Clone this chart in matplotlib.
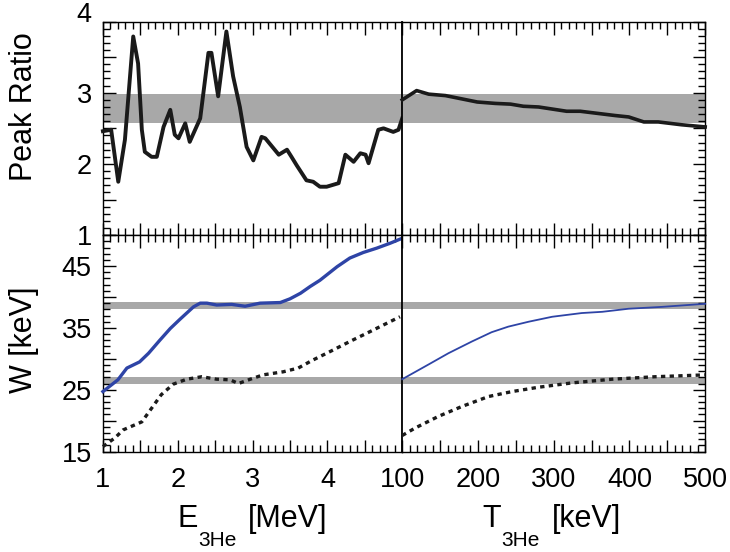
import matplotlib
matplotlib.use("Agg")
import matplotlib.pyplot as plt
from matplotlib.ticker import MultipleLocator, FuncFormatter

plt.rcParams["font.family"] = ["Liberation Sans", "DejaVu Sans"]

# peak ratio vs beam energy (MeV)
e_ratio = [1.0, 1.11, 1.205, 1.294, 1.405, 1.47, 1.52, 1.56, 1.65, 1.72, 1.81, 1.90,
           1.96, 2.01, 2.10, 2.16, 2.30, 2.41, 2.45, 2.54, 2.65, 2.74, 2.83, 2.92,
           3.01, 3.12, 3.17, 3.35, 3.46, 3.52, 3.59, 3.72, 3.81, 3.90, 3.99, 4.15,
           4.24, 4.35, 4.44, 4.51, 4.55, 4.68, 4.75, 4.88, 4.95, 5.0]
ratio_e = [2.46, 2.48, 1.75, 2.34, 3.79, 3.41, 2.48, 2.17, 2.10, 2.10, 2.52, 2.76,
           2.41, 2.36, 2.57, 2.31, 2.64, 3.56, 3.56, 2.95, 3.86, 3.23, 2.80, 2.24,
           2.05, 2.38, 2.36, 2.13, 2.20, 2.10, 1.98, 1.77, 1.75, 1.68, 1.68, 1.73,
           2.13, 2.03, 2.15, 2.13, 2.01, 2.48, 2.50, 2.45, 2.48, 2.64]

# peak ratio vs temperature (keV)
t_ratio = [100, 119, 135, 157, 199, 223, 243, 260, 280, 317, 335, 381, 399, 419,
           438, 469, 500]
ratio_t = [2.90, 3.03, 2.98, 2.96, 2.87, 2.85, 2.84, 2.81, 2.80, 2.74, 2.74, 2.68,
           2.66, 2.59, 2.59, 2.55, 2.52]

# widths vs beam energy
e_w_solid = [1.0, 1.2, 1.32, 1.49, 1.61, 1.76, 1.90, 2.03, 2.21, 2.30, 2.39, 2.52,
             2.72, 2.90, 3.10, 3.37, 3.50, 3.64, 3.77, 3.90, 4.13, 4.30, 4.48,
             4.66, 4.84, 5.0]
w_solid_e = [24.7, 26.6, 28.5, 29.5, 30.9, 33.0, 34.9, 36.4, 38.4, 39.0, 39.0, 38.7,
             38.8, 38.5, 39.0, 39.1, 39.7, 40.6, 41.7, 42.7, 44.9, 46.3, 47.2,
             47.9, 48.7, 49.5]
e_w_dot = [1.0, 1.16, 1.27, 1.52, 1.65, 1.78, 1.94, 2.12, 2.32, 2.52, 2.70, 2.81,
           2.97, 3.14, 3.41, 3.61, 3.79, 4.04, 4.30, 4.57, 4.82, 4.97]
w_dot_e = [15.8, 17.2, 18.5, 19.8, 22.0, 24.2, 25.9, 26.7, 27.1, 26.7, 26.6, 26.0,
           26.7, 27.4, 27.9, 28.5, 29.7, 31.2, 32.8, 34.4, 35.9, 36.8]

# widths vs temperature
t_w_solid = [100, 135, 161, 192, 218, 240, 267, 298, 337, 364, 399, 443, 500]
w_solid_t = [26.7, 29.1, 30.9, 32.8, 34.3, 35.2, 36.0, 36.8, 37.4, 37.6, 38.1,
             38.4, 38.9]
t_w_dot = [100, 117, 148, 179, 214, 245, 280, 324, 377, 434, 500]
w_dot_t = [17.6, 18.8, 20.7, 22.3, 23.9, 24.7, 25.4, 26.1, 26.7, 27.1, 27.4]

ratio_band = (2.58, 2.98)
w_bands = [(26.0, 27.1), (38.1, 39.2)]

band_color = "#a8a8a8"
blue = "#2e44a6"
ink = "#1a1a1a"

fig = plt.figure(figsize=(7.3, 5.52), dpi=100)
x0, xm, x1 = 0.141, 0.551, 0.966
y0, ym, y1 = 0.182, 0.574, 0.961
ax_tl = fig.add_axes([x0, ym, xm - x0, y1 - ym])
ax_tr = fig.add_axes([xm, ym, x1 - xm, y1 - ym])
ax_bl = fig.add_axes([x0, y0, xm - x0, ym - y0])
ax_br = fig.add_axes([xm, y0, x1 - xm, ym - y0])


def int_only(v, pos, skip=()):
    if abs(v - round(v)) < 1e-6 and round(v) not in skip:
        return "%d" % round(v)
    return ""


for ax in (ax_tl, ax_tr, ax_bl, ax_br):
    for s in ax.spines.values():
        s.set_linewidth(1.0)
    ax.tick_params(which="both", direction="in", top=True, bottom=True,
                   width=1.0, labelsize=19.5)
    ax.tick_params(axis="x", pad=11)
    ax.tick_params(axis="y", pad=8)
    ax.tick_params(which="major", length=9)
    ax.tick_params(which="minor", length=5)

for ax in (ax_tl, ax_bl):
    ax.set_xlim(1, 5)
    ax.xaxis.set_major_locator(MultipleLocator(0.5))
    ax.xaxis.set_minor_locator(MultipleLocator(0.1))
    ax.xaxis.set_major_formatter(FuncFormatter(lambda v, p: int_only(v, p, skip=(5,))))
    ax.tick_params(which="both", left=True, right=False)
for ax in (ax_tr, ax_br):
    ax.set_xlim(100, 500)
    ax.xaxis.set_major_locator(MultipleLocator(50))
    ax.xaxis.set_minor_locator(MultipleLocator(10))
    ax.xaxis.set_major_formatter(
        FuncFormatter(lambda v, p: "%d" % v if v % 100 == 0 else ""))
    ax.tick_params(which="both", left=False, right=True, labelleft=False)
    ax.spines["left"].set_linewidth(1.3)

for ax in (ax_tl, ax_tr):
    ax.set_ylim(1, 4)
    ax.yaxis.set_major_locator(MultipleLocator(0.5))
    ax.yaxis.set_minor_locator(MultipleLocator(0.1))
    ax.yaxis.set_major_formatter(FuncFormatter(int_only))
    ax.tick_params(labelbottom=False)
    ax.axhspan(*ratio_band, color=band_color, lw=0, zorder=1)
for ax in (ax_bl, ax_br):
    ax.set_ylim(15, 50)
    ax.yaxis.set_major_locator(MultipleLocator(5))
    ax.yaxis.set_minor_locator(MultipleLocator(1))
    ax.yaxis.set_major_formatter(
        FuncFormatter(lambda v, p: "%d" % v if v % 10 == 5 else ""))
    for lo, hi in w_bands:
        ax.axhspan(lo, hi, color=band_color, lw=0, zorder=1)

ax_tl.plot(e_ratio, ratio_e, color=ink, lw=2.8, zorder=3, clip_on=False)
ax_tr.plot(t_ratio, ratio_t, color=ink, lw=2.6, zorder=3, clip_on=False)

ax_bl.plot(e_w_solid, w_solid_e, color=blue, lw=2.4, zorder=3, clip_on=False)
ax_bl.plot(e_w_dot, w_dot_e, color=ink, lw=2.4, ls=(0, (1.3, 1.3)),
           zorder=3, clip_on=False)
ax_br.plot(t_w_solid, w_solid_t, color=blue, lw=1.3, zorder=3, clip_on=False)
ax_br.plot(t_w_dot, w_dot_t, color=ink, lw=2.4, ls=(0, (1.3, 1.3)),
           zorder=3, clip_on=False)

# top label "4" sits just above its tick
fig.canvas.draw()
for tick, loc in zip(ax_tl.yaxis.get_major_ticks(), ax_tl.yaxis.get_majorticklocs()):
    if abs(loc - 4) < 1e-6:
        tick.label1.set_verticalalignment("baseline")

ax_tl.set_ylabel("Peak Ratio", fontsize=22)
ax_bl.set_ylabel("W [keV]", fontsize=22)
ax_tl.yaxis.set_label_coords(-0.214, 0.60)
ax_bl.yaxis.set_label_coords(-0.214, 0.515)


def sub_label(ax, x, main, sub, unit):
    # main letter, a dropped subscript, then the unit
    t = ax.text(x, -0.347, main, transform=ax.transAxes, fontsize=22,
                ha="left", va="baseline")
    s = ax.annotate(sub, xy=(1, 0), xycoords=t, xytext=(0.5, 2),
                    textcoords="offset points", fontsize=15, ha="left", va="top")
    ax.annotate(unit, xy=(1, 0), xycoords=(s, t), xytext=(8.5, 0),
                textcoords="offset points", fontsize=22, ha="left", va="bottom")


sub_label(ax_bl, 0.2475, "E", "3He", "[MeV]")
sub_label(ax_br, 0.264, "T", "3He", "[keV]")

fig.savefig("out.png", dpi=100)
